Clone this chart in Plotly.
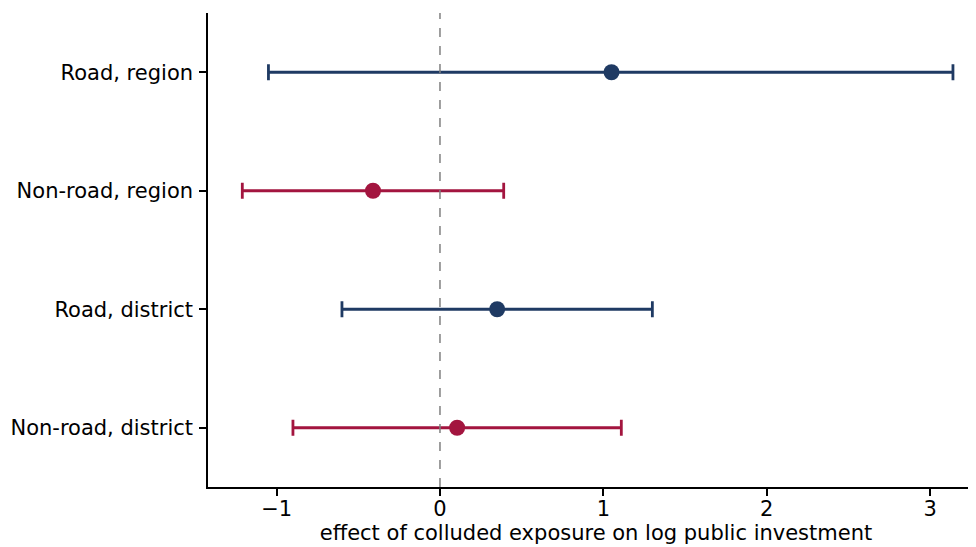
import plotly.graph_objects as go

categories = ["Road, region", "Non-road, region", "Road, district", "Non-road, district"]
estimates = [1.05, -0.41, 0.35, 0.105]
ci_low = [-1.05, -1.21, -0.60, -0.90]
ci_high = [3.14, 0.39, 1.30, 1.11]
colors = ["#1f3a63", "#a3153f", "#1f3a63", "#a3153f"]

fig = go.Figure()
for cat, est, lo, hi, col in zip(categories, estimates, ci_low, ci_high, colors):
    fig.add_trace(go.Scatter(
        x=[est], y=[cat], mode="markers",
        marker=dict(size=16, color=col),
        error_x=dict(type="data", symmetric=False, array=[hi - est], arrayminus=[est - lo],
                     color=col, thickness=2.8, width=8),
        showlegend=False, hoverinfo="x+y",
    ))

fig.add_vline(x=0, line=dict(color="gray", width=1.5, dash="dash"))

fig.update_layout(
    width=976, height=547,
    margin=dict(l=200, r=0, t=5, b=68, autoexpand=False),
    plot_bgcolor="white", paper_bgcolor="white",
    font=dict(family="DejaVu Sans", size=21, color="black"),
    xaxis=dict(range=[-1.42, 3.33], tickvals=[-1, 0, 1, 2, 3], ticktext=["\u22121", "0", "1", "2", "3"],
               showgrid=False, zeroline=False, showline=True, linecolor="black", linewidth=1.5,
               ticks="outside", ticklen=7, tickwidth=1.5, tickcolor="black", ticklabelstandoff=-5,
               title=dict(text="effect of colluded exposure on log public investment", standoff=4,
                          font=dict(size=21))),
    yaxis=dict(categoryorder="array", categoryarray=categories[::-1], range=[-0.5, 3.5],
               showgrid=False, zeroline=False, showline=True, linecolor="black", linewidth=1.5,
               ticks="outside", ticklen=7, tickwidth=1.5, tickcolor="black", ticklabelstandoff=2),
)

fig.write_html("out.html")
